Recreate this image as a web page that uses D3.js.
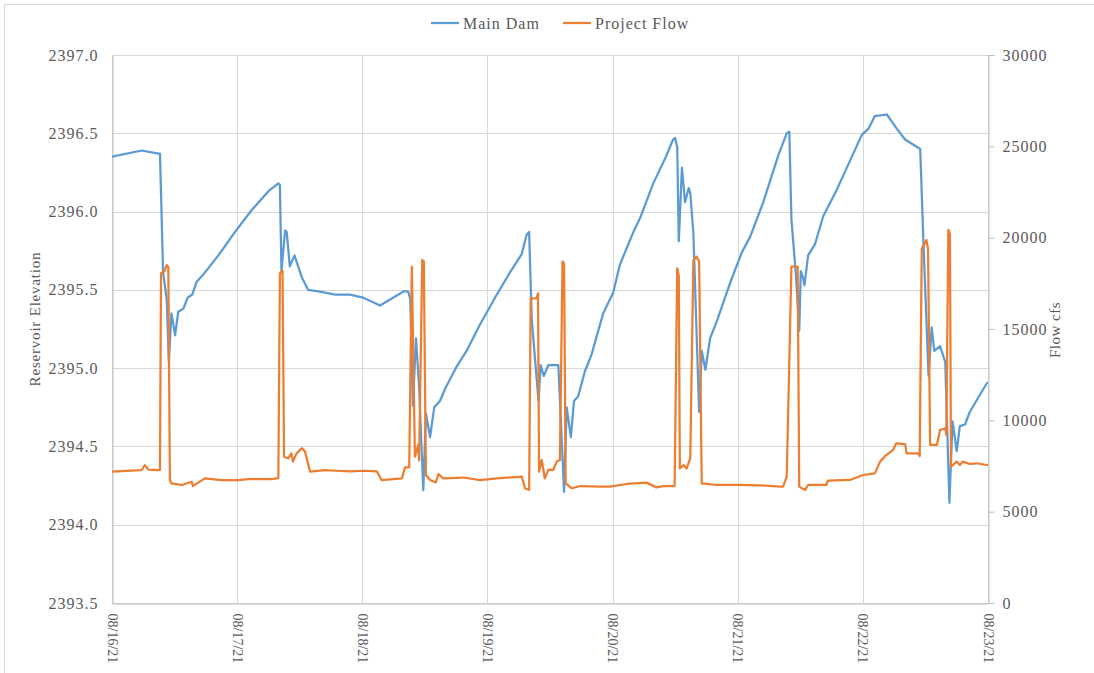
<!DOCTYPE html>
<html>
<head>
<meta charset="utf-8">
<script src="https://cdn.jsdelivr.net/npm/d3@7"></script>
<style>
  body { margin: 0; background: #fff; }
  svg { display: block; }
  text { font-family: "Liberation Serif", "Times New Roman", serif; fill: #595959; }
</style>
</head>
<body>
<script>
// ---------- data ----------
const dayLabels = ["08/16/21","08/17/21","08/18/21","08/19/21","08/20/21","08/21/21","08/22/21","08/23/21"];
const elevTicks = [2393.5, 2394.0, 2394.5, 2395.0, 2395.5, 2396.0, 2396.5, 2397.0];
const flowTicks = [0, 5000, 10000, 15000, 20000, 25000, 30000];
const seriesNames = ["Main Dam", "Project Flow"];
const seriesColors = ["#5B9BD5", "#ED7D31"];

// hours after 08/16/21 00:00
const damHours = [0.0,5.7,8.9,9.2,9.8,10.5,10.9,11.4,12.1,12.7,13.7,14.5,15.4,16.2,17.8,20.4,23.6,26.8,30.0,31.9,32.2,32.5,33.2,33.5,34.1,35.0,36.4,37.6,39.6,42.8,45.6,48.2,51.4,53.9,55.9,56.8,57.2,57.7,58.3,58.9,59.7,60.2,61.0,61.8,62.9,63.9,66.1,68.0,70.6,73.8,76.3,78.6,79.5,80.0,80.5,81.8,82.2,82.8,83.7,85.6,86.7,87.2,88.0,88.6,89.4,90.7,92.0,94.2,96.1,97.4,100.0,101.3,103.8,106.1,107.6,108.0,108.4,108.7,109.3,109.9,110.6,110.9,111.5,112.6,113.1,113.8,114.7,116.0,118.6,120.8,122.4,124.9,127.8,129.4,129.9,130.3,131.2,131.8,132.1,132.5,132.8,133.5,134.8,136.4,139.0,141.2,143.8,145.1,146.3,148.6,150.5,152.1,155.0,155.6,156.6,157.2,157.7,158.8,159.8,160.6,161.2,162.0,162.6,163.6,164.5,167.7,168.0];
const damElev = [2396.35,2396.39,2396.37,2396.37,2395.61,2395.44,2395.04,2395.35,2395.21,2395.36,2395.38,2395.45,2395.47,2395.55,2395.61,2395.72,2395.87,2396.01,2396.13,2396.18,2396.17,2395.62,2395.88,2395.87,2395.65,2395.72,2395.58,2395.50,2395.49,2395.47,2395.47,2395.45,2395.40,2395.45,2395.49,2395.49,2395.44,2394.76,2395.19,2394.88,2394.22,2394.71,2394.56,2394.75,2394.79,2394.87,2395.01,2395.11,2395.28,2395.47,2395.61,2395.73,2395.85,2395.87,2395.31,2394.79,2395.02,2394.95,2395.02,2395.02,2394.21,2394.75,2394.56,2394.79,2394.82,2394.98,2395.09,2395.35,2395.48,2395.66,2395.87,2395.96,2396.18,2396.34,2396.46,2396.47,2396.41,2395.81,2396.28,2396.06,2396.15,2396.12,2395.86,2394.72,2395.11,2394.99,2395.19,2395.30,2395.55,2395.74,2395.84,2396.06,2396.36,2396.50,2396.51,2395.95,2395.58,2395.24,2395.62,2395.58,2395.53,2395.72,2395.79,2395.97,2396.14,2396.30,2396.49,2396.53,2396.61,2396.62,2396.53,2396.46,2396.40,2395.82,2394.95,2395.26,2395.11,2395.14,2395.04,2394.14,2394.66,2394.47,2394.63,2394.64,2394.72,2394.90,2394.91];

const flowHours = [0.0,5.7,6.3,7.0,8.9,9.2,9.4,10.0,10.5,10.8,11.1,11.4,13.4,15.3,15.5,17.8,21.0,24.2,26.1,30.6,31.9,32.2,32.7,33.0,33.8,34.4,34.7,35.4,36.4,37.0,38.0,40.8,43.0,45.6,48.2,50.8,51.7,55.6,56.2,57.0,57.5,58.1,58.7,58.9,59.5,59.8,60.2,61.0,62.1,62.6,63.5,67.4,70.6,73.8,78.6,79.2,80.0,80.3,81.4,81.7,81.9,82.4,83.0,83.7,84.6,85.3,85.9,86.4,86.7,87.0,88.2,89.8,93.6,95.5,98.7,102.5,104.4,105.7,107.9,108.4,108.7,108.9,109.6,110.2,110.9,111.5,112.1,112.6,113.1,116.0,119.8,124.3,128.1,128.7,129.4,130.3,131.5,131.8,132.9,133.5,137.0,137.3,141.5,144.1,146.3,147.3,148.3,149.8,150.4,152.1,152.4,154.6,154.9,155.3,155.9,156.2,156.5,156.9,158.2,158.8,159.8,160.0,160.4,160.7,160.9,162.0,162.6,163.2,164.5,165.8,167.7,168.0];
const flowCfs = [7190,7280,7550,7300,7280,7280,18050,18150,18500,18400,6730,6550,6460,6640,6400,6820,6730,6730,6780,6780,6830,18050,18200,8010,7920,8190,7750,8190,8470,8300,7190,7280,7240,7200,7240,7200,6730,6820,7430,7430,18410,8010,8650,7800,18780,18700,7010,6730,6600,7060,6825,6870,6730,6825,6916,6280,6190,16680,16680,16950,7190,7830,6826,7300,7280,7740,7830,18690,18600,6550,6280,6405,6370,6370,6515,6590,6330,6400,6405,18320,17900,7370,7550,7370,7920,18780,18960,18700,6550,6460,6460,6440,6370,6370,6916,18410,18410,6370,6190,6460,6460,6700,6734,7007,7098,7740,8050,8380,8740,8700,8190,8190,8050,19420,19690,19870,19400,8650,8650,9470,9560,9200,20420,20200,7460,7740,7550,7740,7610,7650,7555,7550];

// ---------- setup ----------
const W = 1094, H = 673;
const plot = { left: 112, right: 988, top: 55, bottom: 603 };
const t0 = new Date(2021, 7, 16).getTime();
const toDate = h => new Date(t0 + h * 3600e3);
const dayDates = dayLabels.map((d, i) => toDate(i * 24));

const x = d3.scaleTime().domain([dayDates[0], dayDates[dayDates.length - 1]]).range([plot.left, plot.right]);
const yL = d3.scaleLinear().domain([2393.5, 2397.0]).range([plot.bottom, plot.top]);
const yR = d3.scaleLinear().domain([0, 30000]).range([plot.bottom, plot.top]);

const svg = d3.select("body").append("svg").attr("width", W).attr("height", H);

// outer chart frame
svg.append("rect").attr("x", 4.5).attr("y", 4.5).attr("width", 1200).attr("height", 800)
  .attr("fill", "none").attr("stroke", "#d9d9d9");

// gridlines
const grid = svg.append("g");
grid.selectAll(".h").data(elevTicks).join("line")
  .attr("x1", plot.left).attr("x2", plot.right)
  .attr("y1", d => Math.round(yL(d)) + 0.5).attr("y2", d => Math.round(yL(d)) + 0.5)
  .attr("stroke", "#d9d9d9").attr("stroke-width", 1);
grid.selectAll(".v").data(dayDates).join("line")
  .attr("x1", d => Math.round(x(d)) + 0.5).attr("x2", d => Math.round(x(d)) + 0.5)
  .attr("y1", plot.top).attr("y2", plot.bottom)
  .attr("stroke", "#d9d9d9").attr("stroke-width", 1);

// left axis
const gL = svg.append("g").attr("transform", `translate(${plot.left + 0.5},0)`)
  .call(d3.axisLeft(yL).tickValues(elevTicks).tickFormat(d3.format(".1f")).tickSize(0).tickPadding(14));
gL.select(".domain").attr("stroke", "#bfbfbf");
gL.selectAll("text").style("font-size", "16px").style("letter-spacing", "1px")
  .style("font-family", '"Liberation Serif", serif').attr("fill", "#595959");

// right axis
const gR = svg.append("g").attr("transform", `translate(${plot.right + 0.5},0)`)
  .call(d3.axisRight(yR).tickValues(flowTicks).tickFormat(d3.format("d")).tickSize(6).tickSizeOuter(0).tickPadding(8));
gR.select(".domain").attr("stroke", "#bfbfbf");
gR.selectAll("line").attr("stroke", "#bfbfbf");
gR.selectAll("text").style("font-size", "16px").style("letter-spacing", "1px")
  .style("font-family", '"Liberation Serif", serif').attr("fill", "#595959");

// bottom axis
const gB = svg.append("g").attr("transform", `translate(0,${plot.bottom + 0.5})`)
  .call(d3.axisBottom(x).tickValues(dayDates).tickFormat((d, i) => dayLabels[i]).tickSize(0).tickSizeOuter(0));
gB.select(".domain").attr("stroke", "#bfbfbf");
gB.selectAll("text")
  .style("font-size", "14px").style("font-family", '"Liberation Serif", serif').attr("fill", "#595959")
  .attr("text-anchor", "start").attr("dy", "0.35em").attr("x", 0).attr("y", 0)
  .attr("transform", "translate(0,10) rotate(90)");

// axis titles
svg.append("text").attr("transform", "translate(40,319) rotate(-90)")
  .attr("text-anchor", "middle").style("font-size", "15px").style("letter-spacing", "0.8px")
  .text("Reservoir Elevation");
svg.append("text").attr("transform", "translate(1060,330) rotate(-90)")
  .attr("text-anchor", "middle").style("font-size", "15px").style("letter-spacing", "0.5px")
  .text("Flow cfs");

// lines
const clip = svg.append("defs").append("clipPath").attr("id", "clip")
  .append("rect").attr("x", plot.left).attr("y", 0).attr("width", plot.right - plot.left).attr("height", plot.bottom + 2);

const damData = damHours.map((h, i) => [toDate(h), damElev[i]]);
const flowData = flowHours.map((h, i) => [toDate(h), flowCfs[i]]);

const lineL = d3.line().x(d => x(d[0])).y(d => yL(d[1]));
const lineR = d3.line().x(d => x(d[0])).y(d => yR(d[1]));

svg.append("path").datum(damData).attr("d", lineL)
  .attr("fill", "none").attr("stroke", seriesColors[0]).attr("stroke-width", 2.25)
  .attr("stroke-linejoin", "round").attr("clip-path", "url(#clip)");
svg.append("path").datum(flowData).attr("d", lineR)
  .attr("fill", "none").attr("stroke", seriesColors[1]).attr("stroke-width", 2.25)
  .attr("stroke-linejoin", "round").attr("clip-path", "url(#clip)");

// legend
const legendX = [431, 563];
const lg = svg.append("g");
seriesNames.forEach((name, i) => {
  lg.append("line").attr("x1", legendX[i]).attr("x2", legendX[i] + 28)
    .attr("y1", 23).attr("y2", 23)
    .attr("stroke", seriesColors[i]).attr("stroke-width", 2.25);
  lg.append("text").attr("x", legendX[i] + 32).attr("y", 23).attr("dy", "0.35em")
    .style("font-size", "16px").style("letter-spacing", "1px").text(name);
});
</script>
</body>
</html>
